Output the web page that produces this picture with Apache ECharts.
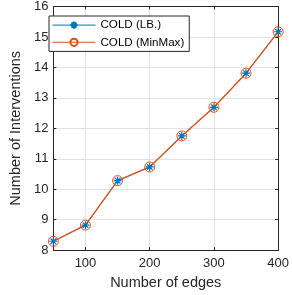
<!DOCTYPE html>
<html><head><meta charset="utf-8">
<script src="https://cdn.jsdelivr.net/npm/echarts@6/dist/echarts.min.js"></script>
<style>html,body{margin:0;padding:0;background:#fff}#c{width:292px;height:295px}</style>
</head><body><div id="c"></div>
<script>
const edges = [50, 100, 150, 200, 250, 300, 350, 400];
const coldLB = [8.29, 8.82, 10.28, 10.73, 11.75, 12.69, 13.81, 15.17];
const coldMinMax = [8.29, 8.82, 10.28, 10.73, 11.75, 12.69, 13.81, 15.17];
const xTicks = [100, 200, 300, 400];
const seriesNames = ['COLD (LB.)', 'COLD (MinMax)'];

const blue = '#0072BD', orange = '#D95319', axisC = '#262626';
const font = 'Liberation Sans, Arial, sans-serif';
const star = 'path://M0,5L10,5M5,0L5,10M1.5,1.5L8.5,8.5M1.5,8.5L8.5,1.5';
const chart = echarts.init(document.getElementById('c'), null, {renderer: 'canvas'});
const xBase = {
  type: 'value', min: 50, max: 400,
  axisLine: {lineStyle: {color: axisC, width: 1}},
  axisTick: {inside: true, length: 3, customValues: xTicks, lineStyle: {color: axisC}},
  splitLine: {show: false}
};
const yBase = {
  type: 'value', min: 8, max: 16, interval: 1,
  axisLine: {show: true, lineStyle: {color: axisC, width: 1}},
  axisTick: {inside: true, length: 3, lineStyle: {color: axisC}},
  splitLine: {show: false}
};
chart.setOption({
  animation: false,
  grid: {left: 40, right: 10, top: 5, bottom: 42},
  xAxis: [
    Object.assign({}, xBase, {
      position: 'bottom',
      name: 'Number of edges', nameLocation: 'middle', nameGap: 19,
      nameTextStyle: {color: axisC, fontSize: 14.5, fontFamily: font},
      axisLabel: {customValues: xTicks, margin: 7, color: axisC, fontSize: 13, fontFamily: font},
      splitLine: {show: true, lineStyle: {color: '#e3e3e3', width: 1}}
    }),
    Object.assign({}, xBase, {position: 'top', axisLabel: {show: false}})
  ],
  yAxis: [
    Object.assign({}, yBase, {
      position: 'left',
      name: 'Number of Interventions', nameLocation: 'middle', nameGap: 20,
      nameTextStyle: {color: axisC, fontSize: 14.5, fontFamily: font},
      axisLabel: {margin: 5, color: axisC, fontSize: 13, fontFamily: font},
      splitLine: {show: true, lineStyle: {color: '#e3e3e3', width: 1}}
    }),
    Object.assign({}, yBase, {position: 'right', axisLabel: {show: false}})
  ],
  legend: {
    orient: 'vertical', left: 49, top: 16,
    backgroundColor: '#fff', borderColor: axisC, borderWidth: 1, borderRadius: 0,
    padding: [3, 5, 3, 3], itemGap: 5, itemWidth: 43, itemHeight: 9,
    lineStyle: {width: 1},
    textStyle: {color: '#000', fontSize: 11.6, fontFamily: font},
    data: seriesNames
  },
  series: [
    {
      name: seriesNames[0], type: 'line', data: edges.map((e, i) => [e, coldLB[i]]),
      symbol: star, symbolSize: 8, showAllSymbol: true,
      lineStyle: {color: blue, width: 1}, itemStyle: {color: 'none', borderColor: blue, borderWidth: 1.2}
    },
    {
      name: seriesNames[1], type: 'line', data: edges.map((e, i) => [e, coldMinMax[i]]),
      symbol: 'circle', symbolSize: 10, showAllSymbol: true,
      lineStyle: {color: orange, width: 1.3}, itemStyle: {color: 'none', borderColor: orange, borderWidth: 1}
    }
  ]
});
</script></body></html>
